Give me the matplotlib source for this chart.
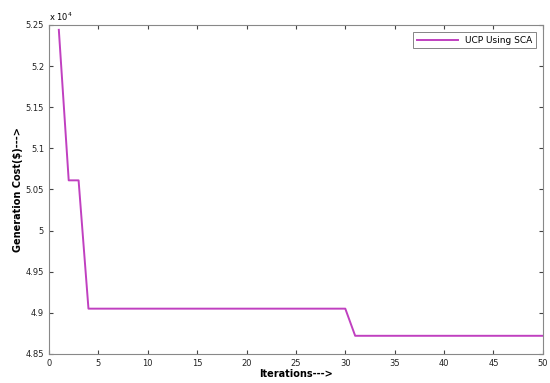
import numpy as np
import matplotlib
matplotlib.use('Agg')
import matplotlib.pyplot as plt
from matplotlib.ticker import FuncFormatter, MultipleLocator

# best generation cost per iteration
iterations = list(range(1, 51))
cost = [52440, 50610, 50610] + [49050] * 27 + [48720] * 20

f, ax = plt.subplots(1, 1, figsize=(5.5, 3.83), dpi=100)
f.subplots_adjust(left=0.089, right=0.987, bottom=0.076, top=0.935)

ax.plot(iterations, cost, color='#c040c0', linewidth=1.4, label='UCP Using SCA')

ax.set_xlim([0, 50])
ax.set_ylim([48500, 52500])
ax.xaxis.set_major_locator(MultipleLocator(5))
ax.yaxis.set_major_locator(MultipleLocator(500))
ax.yaxis.set_major_formatter(FuncFormatter(lambda v, p: '%g' % round(v / 1e4, 3)))
ax.tick_params(direction='in', length=3, labelsize=6, top=True, right=True,
               colors='#444444', labelcolor='#222222')
for s in ax.spines.values():
    s.set_color('#888888')
    s.set_linewidth(0.8)

ax.text(0.0, 1.005, r'x 10$^4$', transform=ax.transAxes, fontsize=6, ha='left', va='bottom')
ax.set_xlabel('Iterations--->', fontsize=7, fontweight='bold', labelpad=1)
ax.set_ylabel('Generation Cost($)--->', fontsize=7, fontweight='bold', labelpad=2)

leg = ax.legend(loc='upper right', fontsize=6.5, fancybox=False, handlelength=4.5,
                borderaxespad=0.8)
leg.get_frame().set_edgecolor('#666666')
leg.get_frame().set_linewidth(0.7)

f.savefig('out.png', dpi=100)
plt.close()
